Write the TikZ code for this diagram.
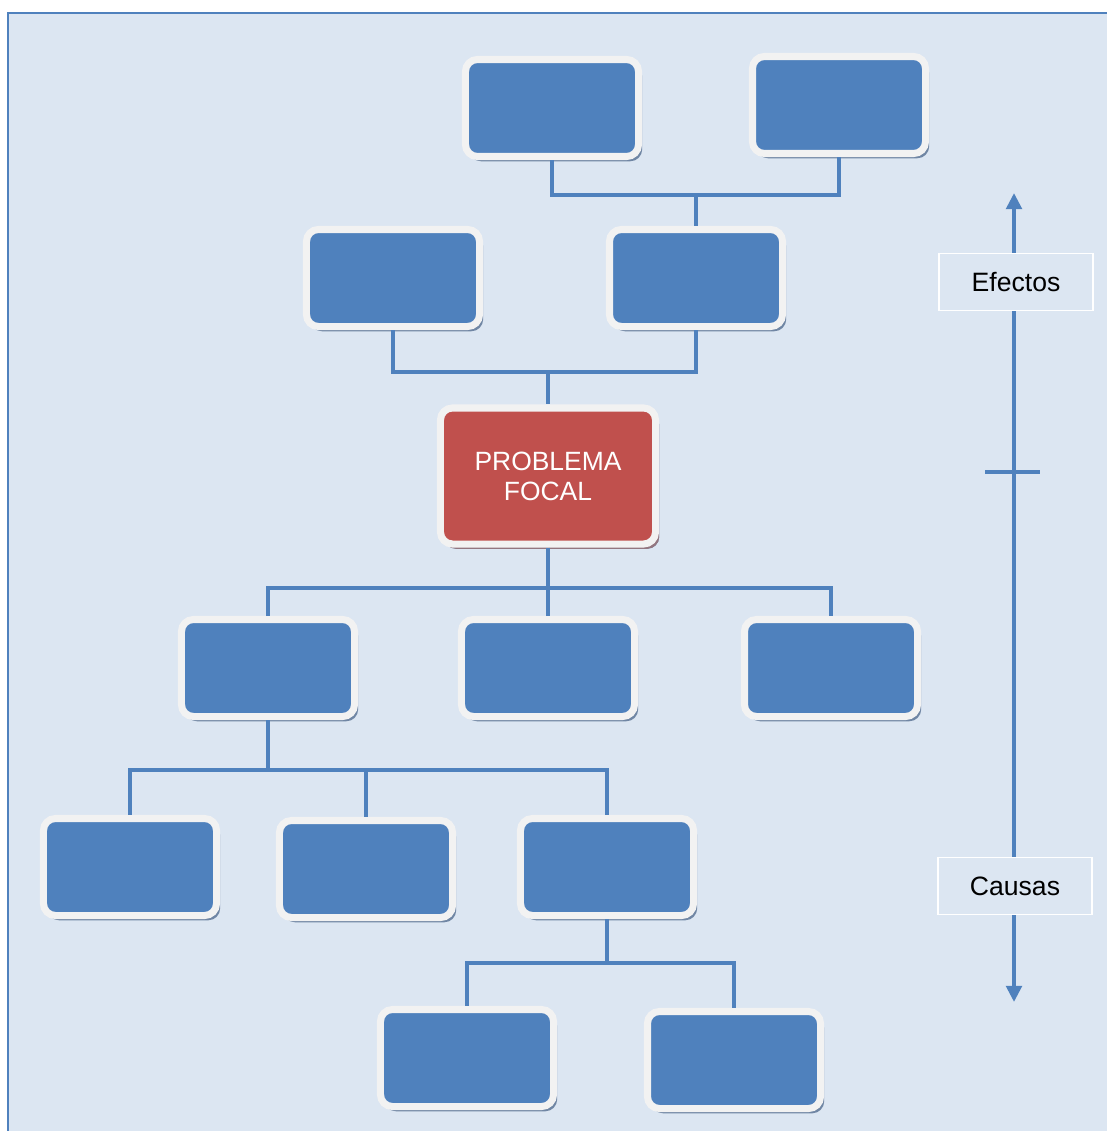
\documentclass[tikz,border=0pt]{standalone}
\usepackage{fontspec}
\setmainfont{Liberation Sans}
\usetikzlibrary{positioning, shadows, arrows.meta}
\definecolor{fondo}{HTML}{DCE6F2}
\definecolor{azul}{HTML}{4F81BD}
\definecolor{rojo}{HTML}{C0504D}
\definecolor{borde}{HTML}{F2F2F2}
\definecolor{sombra}{HTML}{7086A4}
\definecolor{sombrar}{HTML}{937680}
\tikzset{marco/.style={draw=azul, line width=1.6pt, fill=fondo}}
\tikzset{cajon/.style={rounded corners=8.5pt, draw=borde, line width=5pt, fill=azul, minimum width=4.325cm, minimum height=2.425cm, drop shadow={shadow xshift=2.6pt, shadow yshift=-3.4pt, fill=sombra, opacity=1}}}
\tikzset{focal/.style={cajon, fill=rojo, minimum width=5.375cm, minimum height=3.4cm, text=white, align=center, font=\fontsize{18.8}{21.3}\selectfont, drop shadow={shadow xshift=2.6pt, shadow yshift=-3.4pt, fill=sombrar, opacity=1}}}
\tikzset{etiq/.style={draw=white, line width=1.2pt, fill=fondo, minimum width=3.85cm, minimum height=1.42cm, font=\fontsize{18.9}{21.3}\selectfont}}
\tikzset{conn/.style={draw=azul, line width=2.4pt}}
\tikzset{eje/.style={draw=azul, line width=2.8pt}}

\begin{document}
\begin{tikzpicture}[x=0.025cm, y=-0.025cm]
	\useasboundingbox (0,0) rectangle (1106,1131);
	\draw[marco] (8,13) rectangle (1140,1160);

	% efectos
	\node[cajon] (e1) at (552,108) {};
	\node[cajon] (e2) at (839,105) {};
	\node[cajon] (e3) at (393,278) {};
	\node[cajon] (e4) at (696,278) {};
	\node[focal] (pf) at (548,476) {PROBLEMA\\FOCAL};
	% causas
	\node[cajon] (c1) at (268,668) {};
	\node[cajon] (c2) at (548,668) {};
	\node[cajon] (c3) at (831,668) {};
	\node[cajon] (c4) at (130,867) {};
	\node[cajon] (c5) at (366,869) {};
	\node[cajon] (c6) at (607,867) {};
	\node[cajon] (c7) at (467,1058) {};
	\node[cajon] (c8) at (734,1060) {};

	\coordinate (j1) at (696,195);
	\coordinate (j2) at (548,372);
	\coordinate (j3) at (548,588);
	\coordinate (j4) at (268,770);
	\coordinate (j5) at (607,963);

	\draw[conn] (e1.south) |- (j1) -| (e2.south);
	\draw[conn] (j1) -- (e4.north);
	\draw[conn] (e3.south) |- (j2) -| (e4.south);
	\draw[conn] (j2) -- (pf.north);
	\draw[conn] (pf.south) -- (j3);
	\draw[conn] (c1.north) |- (j3) -| (c3.north);
	\draw[conn] (j3) -- (c2.north);
	\draw[conn] (c1.south) -- (j4);
	\draw[conn] (c4.north) |- (j4) -| (c6.north);
	\draw[conn] (c5.north) -- (c5.north |- j4);
	\draw[conn] (c6.south) -- (j5);
	\draw[conn] (c7.north) |- (j5) -| (c8.north);

	% eje
	\node[etiq] (ef) at (1016,282) {Efectos};
	\node[etiq] (cz) at (1015,886) {Causas};
	\coordinate (arriba) at (1014,193);
	\coordinate (abajo) at (1014,1002);
	\coordinate (medio) at (1014,472);
	\draw[eje, -{Triangle[length=11.5pt, width=11pt]}] (ef.north -| arriba) -- (arriba);
	\draw[eje, -{Triangle[length=11.5pt, width=11pt]}] (cz.south -| abajo) -- (abajo);
	\draw[eje] (cz.north -| medio) -- (ef.south -| medio);
	\draw[eje] ([xshift=-0.725cm]medio) -- ([xshift=0.65cm]medio);
\end{tikzpicture}
\end{document}
